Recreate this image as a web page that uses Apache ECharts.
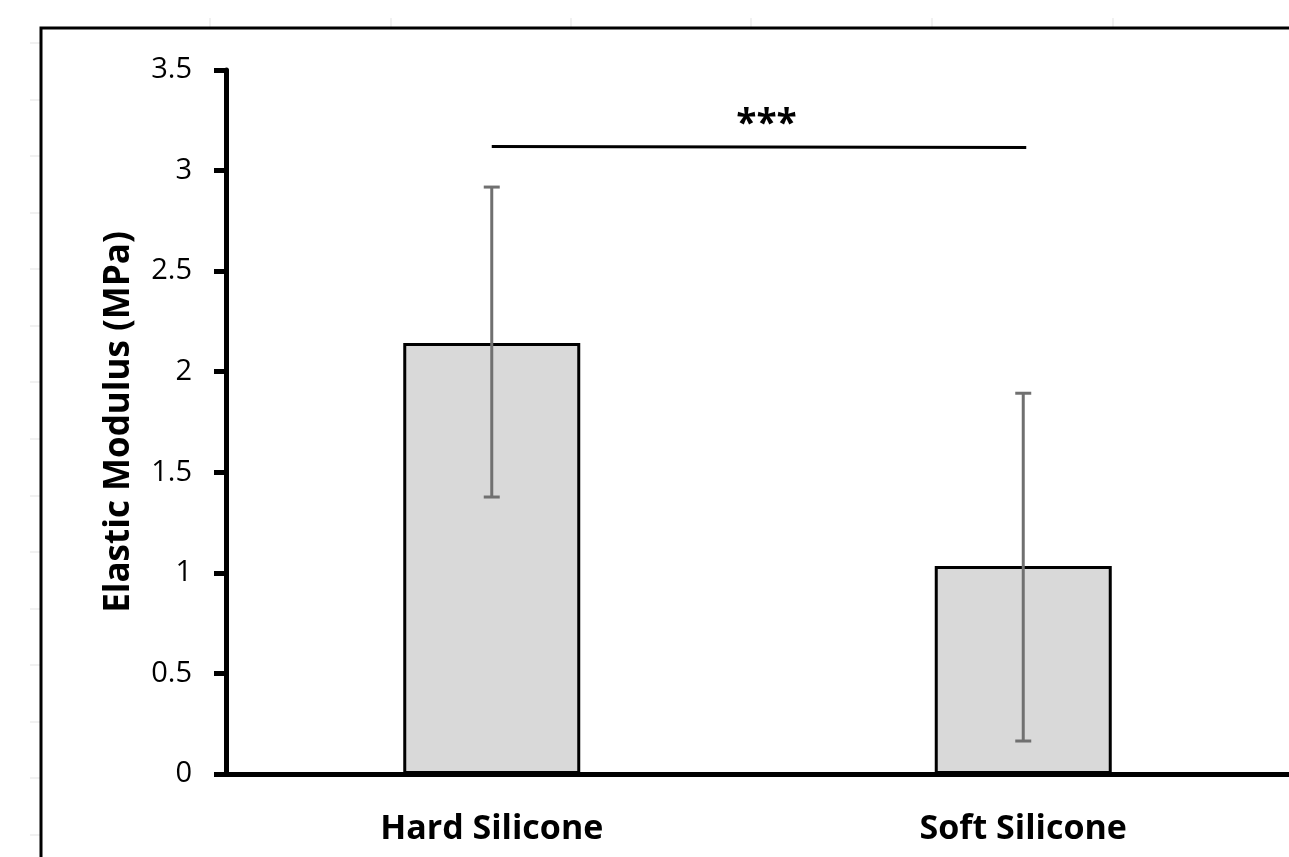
<!DOCTYPE html>
<html>
<head>
<meta charset="utf-8">
<script src="https://cdn.jsdelivr.net/npm/echarts@6/dist/echarts.min.js"></script>
<style>
html,body{margin:0;padding:0;background:#fff;}
#chart{width:1289px;height:857px;}
</style>
</head>
<body>
<div id="chart"></div>
<script>
var categories = ['Hard Silicone', 'Soft Silicone'];
var means = [2.143, 1.034];
var errLow = [1.377, 0.164];
var errHigh = [2.918, 1.893];
var yTicks = [0, 0.5, 1, 1.5, 2, 2.5, 3, 3.5];
var sigPair = [0, 1];
var sigLevel = [3.12];
var sigLabel = ['***'];

var FONT = 'Open Sans';
var chart = echarts.init(document.getElementById('chart'), null, {renderer: 'canvas'});

// faint spreadsheet gridlines outside the chart frame
var sheetLines = [];
[210, 391, 571, 751, 932, 1113].forEach(function (x) {
  sheetLines.push({type: 'line', shape: {x1: x, y1: 18, x2: x, y2: 27}, style: {stroke: '#e3e3e3', lineWidth: 1}, silent: true});
});
for (var i = 0; i < 15; i++) {
  var y = Math.round(43 + i * 56.57);
  sheetLines.push({type: 'line', shape: {x1: 30, y1: y, x2: 40, y2: y}, style: {stroke: '#e3e3e3', lineWidth: 1}, silent: true});
}

var errData = categories.map(function (c, i) { return [i, errLow[i], errHigh[i]]; });
var sigData = [[sigPair[0], sigPair[1], sigLevel[0]]];

var option = {
  backgroundColor: '#fff',
  animation: false,
  graphic: sheetLines.concat([
    {type: 'rect', shape: {x: 41, y: 28, width: 1400, height: 900},
     style: {fill: 'none', stroke: '#000', lineWidth: 3}, silent: true, z: 100}
  ]),
  grid: {left: 226, top: 70, width: 1066, height: 704, containLabel: false},
  xAxis: {
    type: 'category',
    data: categories,
    boundaryGap: true,
    axisLine: {show: true, lineStyle: {color: '#000', width: 5}},
    axisTick: {show: false},
    axisLabel: {color: '#000', fontFamily: FONT, fontWeight: 'bold', fontSize: 34, margin: 38},
    splitLine: {show: false}
  },
  yAxis: {
    type: 'value',
    min: yTicks[0],
    max: yTicks[yTicks.length - 1],
    interval: yTicks[1] - yTicks[0],
    name: 'Elastic Modulus (MPa)',
    nameLocation: 'middle',
    nameGap: 89,
    nameTextStyle: {color: '#000', fontFamily: FONT, fontWeight: 'bold', fontSize: 35},
    axisLine: {show: true, lineStyle: {color: '#000', width: 5}},
    axisTick: {show: true, length: 12, lineStyle: {color: '#000', width: 5}},
    axisLabel: {color: '#000', fontFamily: FONT, fontSize: 29, margin: 34},
    splitLine: {show: false}
  },
  series: [
    {
      type: 'bar',
      data: means,
      barWidth: 177,
      itemStyle: {color: '#d9d9d9', borderColor: '#000', borderWidth: 3},
      z: 2
    },
    {
      type: 'custom',
      data: errData,
      z: 5,
      renderItem: function (params, api) {
        var x = api.value(0);
        var lo = api.coord([x, api.value(1)]);
        var hi = api.coord([x, api.value(2)]);
        var cap = 8;
        var st = {stroke: '#707070', lineWidth: 3};
        return {
          type: 'group',
          children: [
            {type: 'line', shape: {x1: hi[0], y1: hi[1], x2: lo[0], y2: lo[1]}, style: st},
            {type: 'line', shape: {x1: hi[0] - cap, y1: hi[1], x2: hi[0] + cap, y2: hi[1]}, style: st},
            {type: 'line', shape: {x1: lo[0] - cap, y1: lo[1], x2: lo[0] + cap, y2: lo[1]}, style: st}
          ]
        };
      }
    },
    {
      type: 'custom',
      data: sigData,
      z: 5,
      renderItem: function (params, api) {
        var a = api.coord([api.value(0), api.value(2)]);
        var b = api.coord([api.value(1), api.value(2)]);
        return {
          type: 'group',
          children: [
            {type: 'line', shape: {x1: a[0], y1: a[1], x2: b[0] + 3, y2: b[1] + 1}, style: {stroke: '#000', lineWidth: 3}},
            {type: 'text', x: (a[0] + b[0]) / 2 + 9, y: a[1] - 2,
             style: {text: sigLabel[0], fill: '#000', font: 'bold 37px "' + FONT + '"', align: 'center', verticalAlign: 'bottom'}}
          ]
        };
      }
    }
  ]
};
chart.setOption(option);
</script>
</body>
</html>
